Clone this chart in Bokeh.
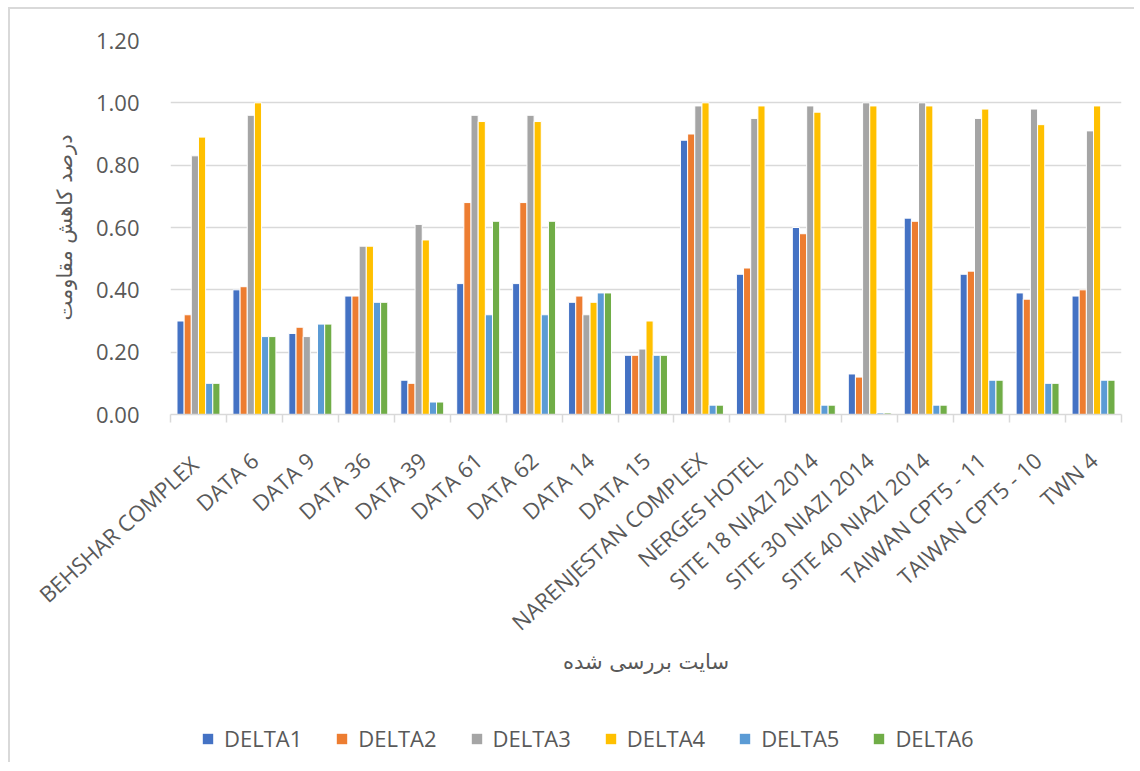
import math
from bokeh.plotting import figure
from bokeh.layouts import column
from bokeh.models import (ColumnDataSource, FixedTicker, Range1d, NumeralTickFormatter,
                          Legend, LegendItem)
from bokeh.transform import dodge
from bokeh.embed import file_html
from bokeh.resources import INLINE

categories = ["BEHSHAR  COMPLEX", "DATA 6", "DATA 9", "DATA 36", "DATA 39", "DATA 61",
              "DATA 62", "DATA 14", "DATA 15", "NARENJESTAN COMPLEX", "NERGES HOTEL",
              "SITE 18 NIAZI 2014", "SITE 30 NIAZI 2014", "SITE 40 NIAZI 2014",
              "TAIWAN CPT5 - 11", "TAIWAN CPT5 - 10", "TWN 4"]

series_names = ["DELTA1", "DELTA2", "DELTA3", "DELTA4", "DELTA5", "DELTA6"]

delta1 = [0.30, 0.40, 0.26, 0.38, 0.11, 0.42, 0.42, 0.36, 0.19, 0.88, 0.45, 0.60, 0.13, 0.63, 0.45, 0.39, 0.38]
delta2 = [0.32, 0.41, 0.28, 0.38, 0.10, 0.68, 0.68, 0.38, 0.19, 0.90, 0.47, 0.58, 0.12, 0.62, 0.46, 0.37, 0.40]
delta3 = [0.83, 0.96, 0.25, 0.54, 0.61, 0.96, 0.96, 0.32, 0.21, 0.99, 0.95, 0.99, 1.00, 1.00, 0.95, 0.98, 0.91]
delta4 = [0.89, 1.00, 0.00, 0.54, 0.56, 0.94, 0.94, 0.36, 0.30, 1.00, 0.99, 0.97, 0.99, 0.99, 0.98, 0.93, 0.99]
delta5 = [0.10, 0.25, 0.29, 0.36, 0.04, 0.32, 0.32, 0.39, 0.19, 0.03, 0.00, 0.03, 0.005, 0.03, 0.11, 0.10, 0.11]
delta6 = [0.10, 0.25, 0.29, 0.36, 0.04, 0.62, 0.62, 0.39, 0.19, 0.03, 0.00, 0.03, 0.005, 0.03, 0.11, 0.10, 0.11]

y_ticks = [0.0, 0.2, 0.4, 0.6, 0.8, 1.0, 1.2]
colors = ["#4472C4", "#ED7D31", "#A5A5A5", "#FFC000", "#5B9BD5", "#70AD47"]

y_title = "درصد کاهش مقاومت"
x_title = "سایت بررسی شده"

series = [delta1, delta2, delta3, delta4, delta5, delta6]
n = len(categories)
centers = [i + 0.5 for i in range(n)]
data = {"x": centers}
for name, vals in zip(series_names, series):
    data[name] = vals
source = ColumnDataSource(data)

TXT = "#595959"
GRID = "#d9d9d9"
FONT = "Open Sans"
FS = "22px"

p = figure(width=1124, height=690, x_range=Range1d(0, n), y_range=Range1d(0, 1.2),
           output_backend="svg", toolbar_location=None,
           min_border_left=160, min_border_right=13, min_border_top=31, min_border_bottom=285)
p.outline_line_color = None
p.background_fill_color = "white"

bw = 0.128
renderers = []
for j, (name, col) in enumerate(zip(series_names, colors)):
    r = p.vbar(x=dodge("x", (j - 2.5) * bw, range=p.x_range), top=name, width=bw,
               source=source, fill_color=col, line_color="white", line_width=1)
    renderers.append(r)

# x axis: labels on (hidden) major ticks, visible boundary marks as minor ticks
xa = p.xaxis[0]
xa.ticker = FixedTicker(ticks=centers, minor_ticks=list(range(n + 1)))
xa.major_label_overrides = {c: cat for c, cat in zip(centers, categories)}
xa.major_label_orientation = math.radians(42)
xa.major_tick_line_color = None
xa.minor_tick_line_color = GRID
xa.minor_tick_line_width = 1.5
xa.minor_tick_out = 8
xa.minor_tick_in = 0
xa.axis_line_color = GRID
xa.axis_line_width = 1.5
xa.major_label_text_font = FONT
xa.major_label_text_font_size = FS
xa.major_label_text_color = TXT
xa.major_label_standoff = 34
xa.axis_label = x_title
xa.axis_label_text_font = "DejaVu Sans"
xa.axis_label_text_font_size = "21px"
xa.axis_label_text_font_style = "normal"
xa.axis_label_text_color = TXT
xa.axis_label_standoff = 0

# y axis
ya = p.yaxis[0]
ya.ticker = FixedTicker(ticks=y_ticks)
ya.formatter = NumeralTickFormatter(format="0.00")
ya.axis_line_color = None
ya.major_tick_line_color = None
ya.minor_tick_line_color = None
ya.major_label_text_font = FONT
ya.major_label_text_font_size = FS
ya.major_label_text_color = TXT
ya.major_label_standoff = 25
ya.axis_label = y_title
ya.axis_label_text_font = "DejaVu Sans"
ya.axis_label_text_font_size = "21px"
ya.axis_label_text_font_style = "normal"
ya.axis_label_text_color = TXT
ya.axis_label_standoff = 16

p.xgrid.visible = False
p.ygrid.grid_line_color = GRID
p.ygrid.grid_line_width = 1.5
p.ygrid.ticker = FixedTicker(ticks=y_ticks)

# legend strip (zero-height dummy bars: only their legend swatches show)
p2 = figure(width=1124, height=63, x_range=Range1d(0, 1), y_range=Range1d(0, 1),
            output_backend="svg", toolbar_location=None, min_border=0,
            x_axis_type=None, y_axis_type=None)
p2.outline_line_color = None
p2.border_fill_color = None
p2.background_fill_color = None
p2.xgrid.visible = False
p2.ygrid.visible = False
leg_renderers = []
for name, col in zip(series_names, colors):
    leg_renderers.append(p2.vbar(x=[0.5], top=[0.0], bottom=[0.0], width=0.1,
                                 fill_color=col, line_color=None))

legend = Legend(items=[LegendItem(label=nm, renderers=[r]) for nm, r in zip(series_names, leg_renderers)],
                orientation="horizontal", location=(31, 9),
                label_text_font=FONT, label_text_font_size=FS, label_text_color=TXT,
                glyph_width=13, glyph_height=13, label_standoff=10, spacing=33,
                padding=0, margin=0, border_line_color=None, background_fill_alpha=0)
p2.add_layout(legend, "center")

layout = column(p, p2, spacing=0,
                styles={"margin-left": "8px", "margin-top": "7px",
                        "border-left": "2px solid #d9d9d9", "border-top": "2px solid #d9d9d9"})

open("out.html", "w").write(file_html(layout, INLINE))
